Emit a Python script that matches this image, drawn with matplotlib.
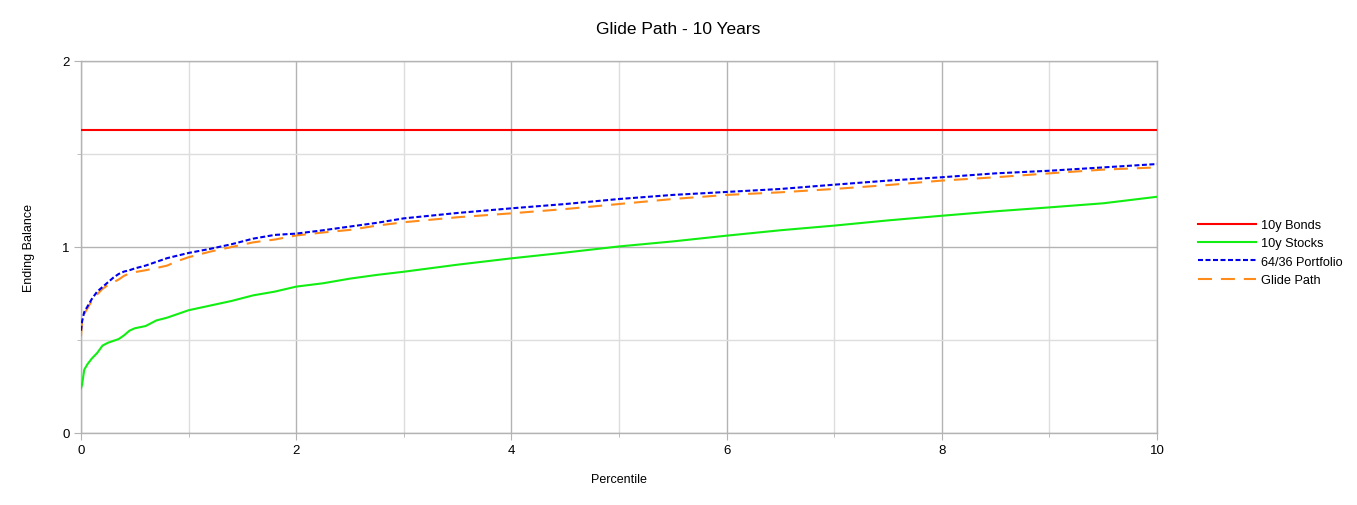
import matplotlib
matplotlib.use("Agg")
import matplotlib.pyplot as plt
from matplotlib.ticker import MultipleLocator

plt.rcParams['font.family'] = ['Liberation Sans', 'DejaVu Sans']

percentile = [0, 0.01, 0.03, 0.06, 0.1, 0.15, 0.2, 0.25, 0.3, 0.35, 0.4, 0.45, 0.5,
              0.6, 0.7, 0.8, 0.9, 1.0, 1.2, 1.4, 1.6, 1.8, 2.0, 2.25, 2.5, 2.75, 3.0,
              3.5, 4.0, 4.5, 5.0, 5.5, 6.0, 6.5, 7.0, 7.5, 8.0, 8.5, 9.0, 9.5, 10.0]

bonds_10y = [1.63] * len(percentile)

stocks_10y = [0.24, 0.26, 0.34, 0.37, 0.40, 0.43, 0.47, 0.485, 0.495, 0.505, 0.525, 0.55, 0.563,
              0.575, 0.605, 0.62, 0.64, 0.66, 0.685, 0.71, 0.74, 0.76, 0.787, 0.805, 0.83, 0.85, 0.867,
              0.905, 0.939, 0.97, 1.003, 1.03, 1.061, 1.09, 1.115, 1.143, 1.168, 1.192, 1.213, 1.235, 1.27]

portfolio_64_36 = [0.55, 0.60, 0.65, 0.68, 0.72, 0.76, 0.785, 0.81, 0.835, 0.855, 0.868, 0.875, 0.885,
                   0.90, 0.92, 0.94, 0.954, 0.968, 0.99, 1.015, 1.045, 1.065, 1.072, 1.09, 1.11, 1.13, 1.154,
                   1.183, 1.208, 1.231, 1.258, 1.28, 1.296, 1.312, 1.335, 1.357, 1.375, 1.396, 1.41, 1.428, 1.446]

glide_path = [0.52, 0.60, 0.64, 0.67, 0.71, 0.745, 0.775, 0.795, 0.81, 0.825, 0.845, 0.858, 0.865,
              0.875, 0.887, 0.90, 0.925, 0.945, 0.975, 1.0, 1.025, 1.04, 1.062, 1.078, 1.092, 1.115, 1.133,
              1.16, 1.181, 1.204, 1.231, 1.258, 1.28, 1.294, 1.312, 1.333, 1.357, 1.375, 1.396, 1.416, 1.428]

fig = plt.figure(figsize=(13.57, 5.06), dpi=100)
ax = fig.add_axes([81/1357, 1-434/506, (1157-81)/1357, (434-62)/506])

lw = 1.5
ax.plot(percentile, bonds_10y, color='#ff0000', lw=lw, label='10y Bonds', zorder=3)
ax.plot(percentile, stocks_10y, color='#11ee11', lw=lw, label='10y Stocks', zorder=3)
ax.plot(percentile, portfolio_64_36, color='#0000ee', lw=lw, dashes=(2.4, 1.2),
        label='64/36 Portfolio', zorder=4)
ax.plot(percentile, glide_path, color='#ff8c1a', lw=lw, dashes=(6.7, 4.3),
        label='Glide Path', zorder=3)

ax.set_xlim(0, 10)
ax.set_ylim(0, 2)
ax.xaxis.set_major_locator(MultipleLocator(2))
ax.xaxis.set_minor_locator(MultipleLocator(1))
ax.yaxis.set_major_locator(MultipleLocator(1))
ax.yaxis.set_minor_locator(MultipleLocator(0.5))

ax.grid(which='major', color='#b3b3b3', lw=1.0)
ax.grid(which='minor', color='#dddddd', lw=1.0)
ax.set_axisbelow(True)

for s in ax.spines.values():
    s.set_color('#b3b3b3')
    s.set_linewidth(1.0)

ax.tick_params(which='major', length=5, color='#b3b3b3', labelsize=9.5, pad=3)
ax.tick_params(which='minor', length=3, color='#b3b3b3')

fig.text(678/1357, 1-30/506, 'Glide Path - 10 Years', fontsize=12.5,
         ha='center', va='center')
ax.set_xlabel('Percentile', fontsize=9, labelpad=12)
ax.set_ylabel('Ending Balance', fontsize=9, labelpad=20)

fig.legend(loc='upper left', bbox_to_anchor=(1193/1357, 1-215/506), frameon=False,
           fontsize=9.2, handlelength=4.5, handletextpad=0.4, labelspacing=0.5,
           borderaxespad=0)

fig.savefig('out.png', dpi=100)
